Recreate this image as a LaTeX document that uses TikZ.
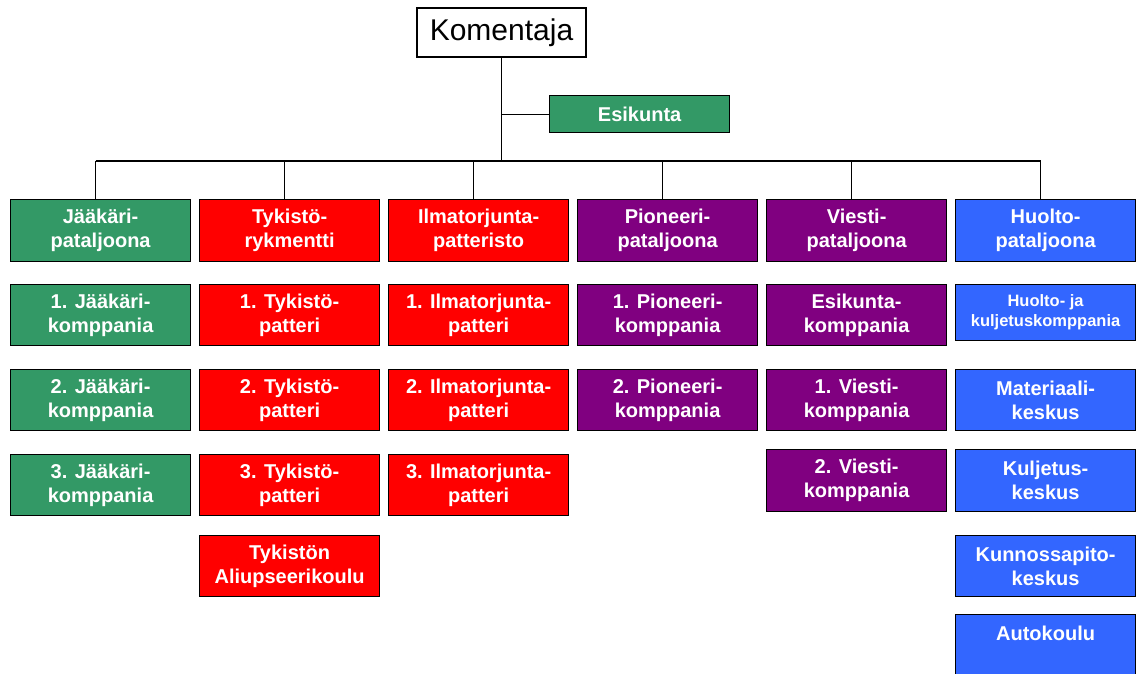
\documentclass[tikz,border=0pt]{standalone}
\usepackage{fontspec}
\setmainfont{Liberation Sans}
\definecolor{unitgreen}{RGB}{51,153,102}
\definecolor{unitred}{RGB}{255,0,0}
\definecolor{unitpurple}{RGB}{128,0,128}
\definecolor{unitblue}{RGB}{51,102,255}
\begin{document}
\begin{tikzpicture}[x=1pt,y=-1pt,
  unit/.style={draw=black, line width=1.2pt, anchor=north west,
    minimum width=180pt, minimum height=61pt, inner sep=0pt,
    text=white, align=center,
    font=\fontsize{20}{24}\selectfont\bfseries},
  green/.style={unit, fill=unitgreen},
  red/.style={unit, fill=unitred},
  purple/.style={unit, fill=unitpurple},
  blue/.style={unit, fill=unitblue},
  link/.style={draw=black, line width=1.2pt}]
\useasboundingbox[fill=white] (0,0) rectangle (1141,673);

% top of the hierarchy
\node[draw=black, line width=1.2pt, fill=white, minimum width=169pt,
  minimum height=49pt, inner sep=0pt, font=\fontsize{30}{34}\selectfont]
  (kom) at (501.5,32.5) {Komentaja};
\node[green, minimum height=37pt] (esi) at (549,95) {Esikunta};

% Jääkäripataljoona
\node[green, minimum height=62pt] (c1) at (10,199) {Jääkäri-\\pataljoona};
\node[green] (c1a) at (10,284) {1. Jääkäri-\\komppania};
\node[green] (c1b) at (10,369) {2. Jääkäri-\\komppania};
\node[green] (c1c) at (10,454) {3. Jääkäri-\\komppania};

% Tykistörykmentti
\node[red, minimum height=62pt] (c2) at (199,199) {Tykistö-\\rykmentti};
\node[red] (c2a) at (199,284) {1. Tykistö-\\patteri};
\node[red] (c2b) at (199,369) {2. Tykistö-\\patteri};
\node[red] (c2c) at (199,454) {3. Tykistö-\\patteri};
\node[red] (c2d) at (199,535) {Tykistön\\Aliupseerikoulu};

% Ilmatorjuntapatteristo
\node[red, minimum height=62pt] (c3) at (388,199) {Ilmatorjunta-\\patteristo};
\node[red] (c3a) at (388,284) {1. Ilmatorjunta-\\patteri};
\node[red] (c3b) at (388,369) {2. Ilmatorjunta-\\patteri};
\node[red] (c3c) at (388,454) {3. Ilmatorjunta-\\patteri};

% Pioneeripataljoona
\node[purple, minimum height=62pt] (c4) at (577,199) {Pioneeri-\\pataljoona};
\node[purple] (c4a) at (577,284) {1. Pioneeri-\\komppania};
\node[purple] (c4b) at (577,369) {2. Pioneeri-\\komppania};

% Viestipataljoona
\node[purple, minimum height=62pt] (c5) at (766,199) {Viesti-\\pataljoona};
\node[purple] (c5a) at (766,284) {Esikunta-\\komppania};
\node[purple] (c5b) at (766,369) {1. Viesti-\\komppania};
\node[purple, minimum height=62pt] (c5c) at (766,449) {2. Viesti-\\komppania};

% Huoltopataljoona
\node[blue, minimum height=62pt] (c6) at (955,199) {Huolto-\\pataljoona};
\node[blue, minimum height=56pt, font=\fontsize{16.5}{20}\selectfont\bfseries]
  (c6a) at (955,284) {Huolto- ja\\kuljetuskomppania};
\node[blue] (c6b) at (955,369) {Materiaali-\\keskus};
\node[blue, minimum height=62pt] (c6c) at (955,449) {Kuljetus-\\keskus};
\node[blue] (c6d) at (955,535) {Kunnossapito-\\keskus};
\node[blue, minimum height=62pt] (c6e) at (955,614) {Autokoulu\\\mbox{}};

% connectors
\coordinate (bus) at (0,161);
\draw[link] (kom.south) -- (kom.south |- bus);
\draw[link] (kom.south |- esi.west) -- (esi.west);
\draw[link] ([xshift=-5pt]c1.north |- bus) -- ([xshift=-5pt]c6.north |- bus);
\foreach \c in {c1,c2,c3,c4,c5,c6}
  \draw[link] ([xshift=-5pt]\c.north) -- ([xshift=-5pt]\c.north |- bus);
\end{tikzpicture}
\end{document}
